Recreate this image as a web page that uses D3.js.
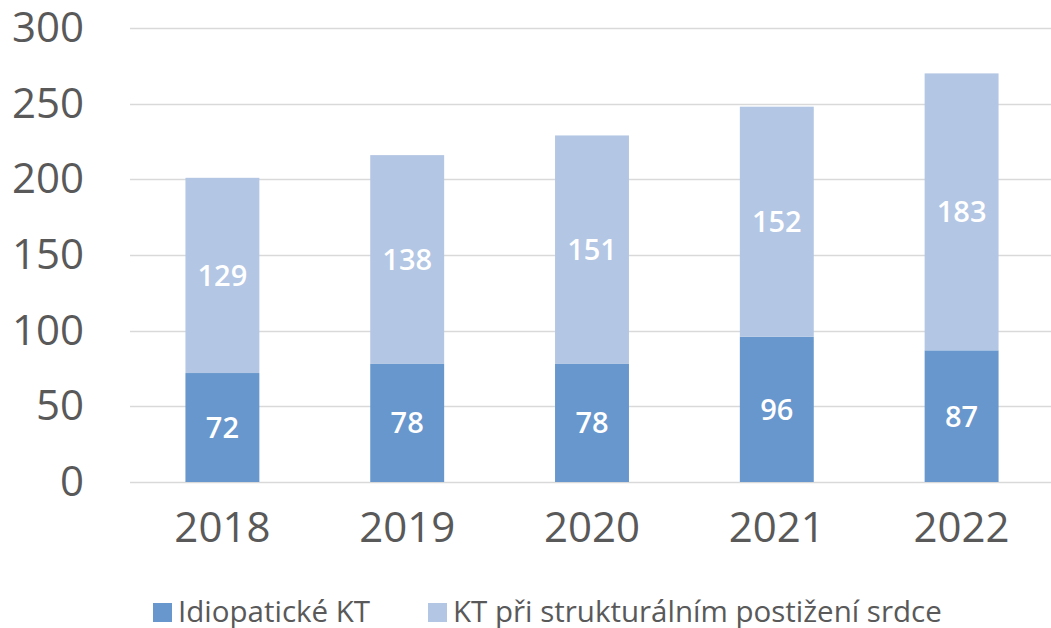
<!DOCTYPE html>
<html>
<head>
<meta charset="utf-8">
<script src="https://cdn.jsdelivr.net/npm/d3@7"></script>
<style>
  body { margin: 0; background: #fff; }
  svg { display: block; font-family: "Open Sans", sans-serif; }
</style>
</head>
<body>
<svg id="chart" width="1051" height="628"></svg>
<script>
const years = ["2018", "2019", "2020", "2021", "2022"];
const idiopaticke = [72, 78, 78, 96, 87];
const strukturalni = [129, 138, 151, 152, 183];
const seriesNames = ["Idiopatické KT", "KT při strukturálním postižení srdce"];
const yTicks = [0, 50, 100, 150, 200, 250, 300];

const colors = ["#6797cd", "#b3c6e4"];
const textColor = "#595959";

const svg = d3.select("#chart");

const x = d3.scaleBand()
  .domain(years)
  .range([130, 1054])
  .paddingInner(0.6)
  .paddingOuter(0.3);

const y = d3.scaleLinear()
  .domain([0, 300])
  .range([482, 28]);

// gridlines
svg.append("g")
  .selectAll("line")
  .data(yTicks)
  .enter().append("line")
  .attr("x1", 130)
  .attr("x2", 1051)
  .attr("y1", d => Math.round(y(d)) + 0.5)
  .attr("y2", d => Math.round(y(d)) + 0.5)
  .attr("stroke", "#d9d9d9")
  .attr("stroke-width", 1.5);

// y axis labels
const yAxis = svg.append("g")
  .attr("transform", "translate(84,0)")
  .call(d3.axisLeft(y).tickValues(yTicks).tickSize(0).tickPadding(0));
yAxis.select(".domain").remove();
yAxis.selectAll("text")
  .attr("fill", textColor)
  .style("font-size", "42px")
  .style("font-family", "'Open Sans', sans-serif");

// x axis labels
const xAxis = svg.append("g")
  .attr("transform", "translate(0,482)")
  .call(d3.axisBottom(x).tickSize(0).tickPadding(30));
xAxis.select(".domain").remove();
xAxis.selectAll("text")
  .attr("fill", textColor)
  .style("font-size", "42px")
  .style("font-family", "'Open Sans', sans-serif");

// stacked data
const rows = years.map((yr, i) => ({ year: yr, a: idiopaticke[i], b: strukturalni[i] }));
const stack = d3.stack().keys(["a", "b"])(rows);

const layers = svg.append("g")
  .selectAll("g")
  .data(stack)
  .enter().append("g")
  .attr("fill", (d, i) => colors[i]);

layers.selectAll("rect")
  .data(d => d)
  .enter().append("rect")
  .attr("x", d => x(d.data.year))
  .attr("y", d => y(d[1]))
  .attr("width", x.bandwidth())
  .attr("height", d => y(d[0]) - y(d[1]));

layers.selectAll("text")
  .data(d => d)
  .enter().append("text")
  .attr("x", d => x(d.data.year) + x.bandwidth() / 2)
  .attr("y", d => y((d[0] + d[1]) / 2))
  .attr("dy", "0.36em")
  .attr("text-anchor", "middle")
  .attr("fill", "#fff")
  .style("font-size", "29px")
  .style("font-weight", 600)
  .text(d => d[1] - d[0]);

// legend
const legendX = [153, 428];
const legend = svg.append("g")
  .selectAll("g")
  .data(seriesNames)
  .enter().append("g")
  .attr("transform", (d, i) => `translate(${legendX[i]},603)`);

legend.append("rect")
  .attr("width", 19)
  .attr("height", 19)
  .attr("fill", (d, i) => colors[i]);

legend.append("text")
  .attr("x", 25)
  .attr("y", 19)
  .attr("fill", textColor)
  .style("font-size", "29.5px")
  .text(d => d);
</script>
</body>
</html>
